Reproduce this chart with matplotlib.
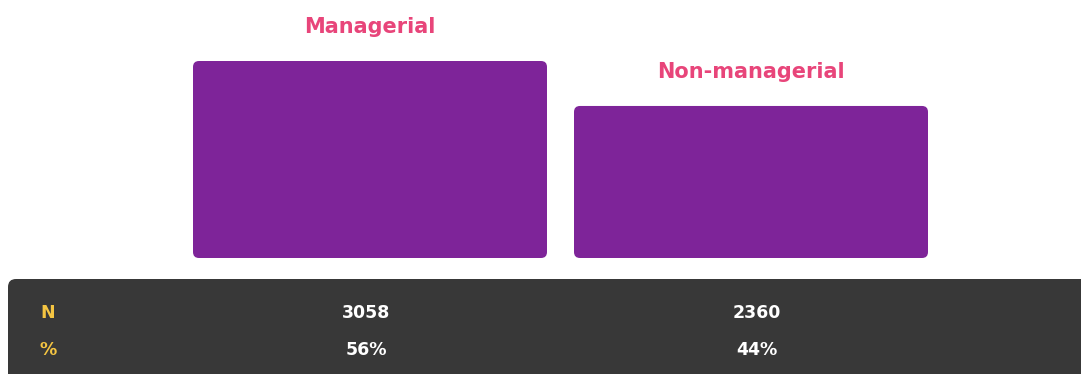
import matplotlib
matplotlib.use("Agg")
import matplotlib.pyplot as plt
from matplotlib.patches import FancyBboxPatch

# group sizes
categories = ["Managerial", "Non-managerial"]
counts = [3058, 2360]
shares = ["56%", "44%"]
row_labels = ["N", "%"]

PURPLE = "#7e2499"
PINK = "#e8457a"
YELLOW = "#f5c542"
PANEL = "#383838"

plt.rcParams["font.family"] = ["DejaVu Sans"]

W, H, DPI = 1081, 374, 100
fig = plt.figure(figsize=(W / DPI, H / DPI), dpi=DPI)
fig.patch.set_facecolor("white")

# bar area: baseline at y=258 px from the top
ax = fig.add_axes([0, (H - 258) / H, 1, 258 / H])
ax.set_xlim(-370 / 381, (W - 370) / 381)
ax.set_ylim(0, max(counts) * 258 / 197)
ax.axis("off")

xs = list(range(len(categories)))
bar_w = 354 / 381
bars = ax.bar(xs, counts, width=bar_w, color=PURPLE)

# swap the square bars for rounded ones
fig.canvas.draw()
px_x = ax.transData.transform((1, 0))[0] - ax.transData.transform((0, 0))[0]
px_y = ax.transData.transform((0, 1))[1] - ax.transData.transform((0, 0))[1]
aspect = px_x / px_y
for b in bars:
    b.set_visible(False)
    patch = FancyBboxPatch((b.get_x(), b.get_y()), b.get_width(), b.get_height(),
                           boxstyle=f"round,pad=0,rounding_size={6 / px_x}",
                           mutation_aspect=aspect, facecolor=PURPLE,
                           edgecolor="none", clip_on=False)
    ax.add_patch(patch)

for x, c, name in zip(xs, counts, categories):
    ax.annotate(name, (x, c), xytext=(0, 28), textcoords="offset pixels",
                ha="center", va="baseline", color=PINK, fontsize=15,
                fontweight="bold", annotation_clip=False)

# dark summary panel along the bottom
panel = FancyBboxPatch((8 / DPI, -0.3), (W + 40) / DPI, (H - 279) / DPI + 0.3,
                       boxstyle=f"round,pad=0,rounding_size={8 / DPI}",
                       transform=fig.dpi_scale_trans, facecolor=PANEL,
                       edgecolor="none")
fig.patches.append(panel)

row_y = [(H - 313) / H, (H - 350) / H]
for lbl, y in zip(row_labels, row_y):
    fig.text(48 / W, y, lbl, ha="center", va="center", color=YELLOW,
             fontsize=12.5, fontweight="bold")

# value columns sit a little off the bar centres
col_shift = [-4, 6]
for x, c, s, dx in zip(xs, counts, shares, col_shift):
    fx = fig.transFigure.inverted().transform(ax.transData.transform((x, 0)))[0]
    fx += dx / W
    fig.text(fx, row_y[0], str(c), ha="center", va="center", color="white",
             fontsize=12.5, fontweight="bold")
    fig.text(fx, row_y[1], s, ha="center", va="center", color="white",
             fontsize=12.5, fontweight="bold")

fig.savefig("out.png", dpi=DPI, facecolor=fig.get_facecolor())
